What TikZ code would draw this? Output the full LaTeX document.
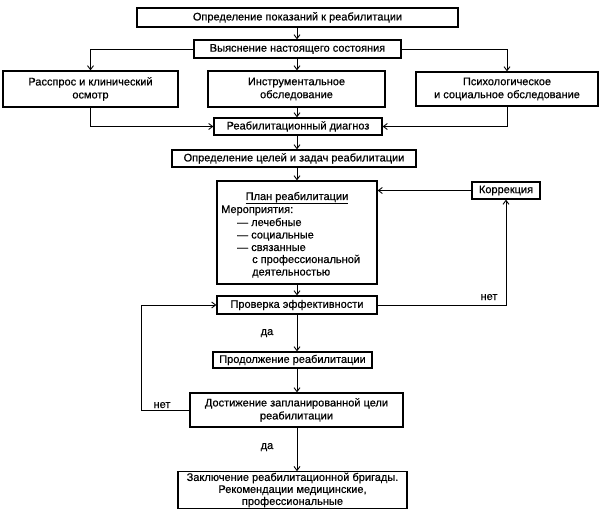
\documentclass[tikz,border=0pt]{standalone}
\usepackage{fontspec}
\setmainfont{Liberation Sans}[FakeBold=0.6]
\usetikzlibrary{arrows.meta}
\begin{document}
\begin{tikzpicture}[x=1pt,y=-1pt,
  every node/.style={font=\fontsize{11}{13}\selectfont},
  box/.style={draw, line width=1.2pt, inner sep=1pt, align=center},
  conn/.style={line width=0.9pt},
  arr/.style={conn, -{Straight Barb[length=4pt,width=6pt]}},
  lbl/.style={inner sep=0pt, anchor=base}]
\useasboundingbox (0,0) rectangle (599,521);
\node[box, minimum width=321, minimum height=19] (b1) at (297.5,17.5) {Определение показаний к реабилитации};
\node[box, minimum width=207, minimum height=18] (b2) at (297.5,49) {Выяснение настоящего состояния};
\node[box, minimum width=175, minimum height=36] (left) at (90.5,89) {Расспрос и клинический\\осмотр};
\node[box, minimum width=177, minimum height=36] (mid) at (296.5,89) {Инструментальное\\обследование};
\node[box, minimum width=182, minimum height=34] (right) at (507,89) {Психологическое\\и социальное обследование};
\node[box, minimum width=168, minimum height=17] (diag) at (298,126.5) {Реабилитационный диагноз};
\node[box, minimum width=244, minimum height=17] (goals) at (294,158.5) {Определение целей и задач реабилитации};
\node[box, minimum width=160, minimum height=103] (plan) at (297,232.5) {};
\node[lbl] (pt) at (297,200) {\underline{План реабилитации}};
\node[lbl, anchor=base west] (p0) at (221,213) {Мероприятия:};
\node[lbl, anchor=base west] (p1) at (237,226) {— лечебные};
\node[lbl, anchor=base west] (p2) at (237,238.5) {— социальные};
\node[lbl, anchor=base west] (p3) at (237,251) {— связанные};
\node[lbl, anchor=base west] (p4) at (252,263) {с профессиональной};
\node[lbl, anchor=base west] (p5) at (252,275.5) {деятельностью};
\node[box, minimum width=68, minimum height=17] (korr) at (506,190.5) {Коррекция};
\node[box, minimum width=160, minimum height=18] (check) at (297,305) {Проверка эффективности};
\node[box, minimum width=159, minimum height=16] (cont) at (292.5,360) {Продолжение реабилитации};
\node[box, minimum width=213, minimum height=34] (ach) at (296.5,410) {Достижение запланированной цели\\реабилитации};
\node[box, minimum width=229, minimum height=36, font=\fontsize{11}{12}\selectfont] (concl) at (292.5,490) {Заключение реабилитационной бригады.\\Рекомендации медицинские,\\профессиональные};
\coordinate (lp) at (141,0);
\coordinate (ax) at (297,0);
% connectors
\draw[arr] (b1.south -| ax) -- (b2.north -| ax);
\draw[arr] (b2.west) -| (left.north);
\draw[arr] (b2.east) -| (right.north);
\draw[arr] (b2.south -| ax) -- (mid.north -| ax);
\draw[arr] (left.south) |- (diag.west);
\draw[arr] (right.south) |- (diag.east);
\draw[arr] (mid.south -| ax) -- (diag.north -| ax);
\draw[arr] (diag.south -| ax) -- (goals.north -| ax);
\draw[arr] (goals.south -| ax) -- (plan.north -| ax);
\draw[arr] (plan.south -| ax) -- (check.north -| ax);
\draw[arr] (korr.west) -- (korr.west -| plan.east);
\draw[arr] (check.east) -| (korr.south);
\draw[arr] (check.south -| ax) -- (cont.north -| ax);
\draw[arr] (cont.south -| ax) -- (ach.north -| ax);
\draw[arr] (ach.south -| ax) -- (concl.north -| ax);
\draw[arr] (ach.west) -- (ach.west -| lp) |- (check.west);
\node[lbl] (n1) at (489,300) {нет};
\node[lbl] (n2) at (162,408) {нет};
\node[lbl] (d1) at (267,335) {да};
\node[lbl] (d2) at (267,449) {да};
\end{tikzpicture}
\end{document}
